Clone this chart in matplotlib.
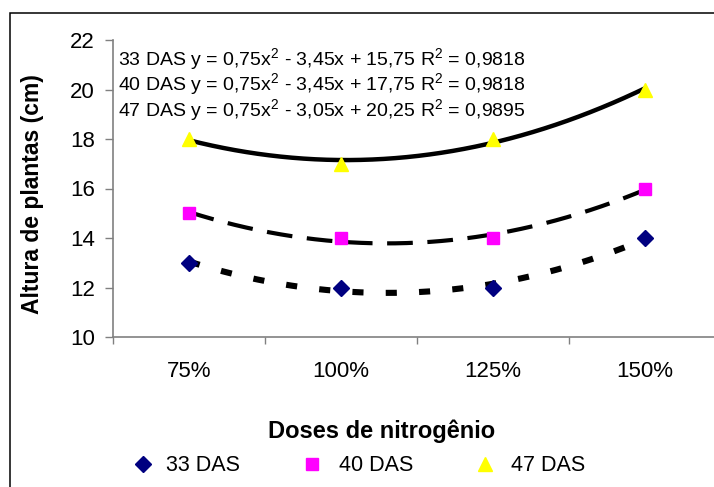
import numpy as np
import matplotlib.pyplot as plt
from matplotlib.patches import Rectangle
from matplotlib.lines import Line2D

plt.rcParams['font.family'] = ['Liberation Sans', 'DejaVu Sans']
plt.rcParams['mathtext.fontset'] = 'custom'
plt.rcParams['mathtext.rm'] = 'Liberation Sans'
plt.rcParams['lines.scale_dashes'] = False

# Data
doses = ["75%", "100%", "125%", "150%"]
das33 = [13, 12, 12, 14]
das40 = [15, 14, 14, 16]
das47 = [18, 17, 18, 20]

# Polynomial trendline coefficients (a, b, c) and R2
coef33 = [0.75, -3.45, 15.75]
coef40 = [0.75, -3.45, 17.75]
coef47 = [0.75, -3.05, 20.25]
r2 = ["0,9818", "0,9818", "0,9895"]

grey = "#808080"
W, H = 714, 487
x = np.arange(1, len(doses) + 1)
xs = np.linspace(1, 4, 200)

fig = plt.figure(figsize=(7.14, 4.87), dpi=100)
ax = fig.add_axes([113 / W, 150 / H, 608 / W, 297 / H])

# outer chart frame
fig.patches.append(Rectangle((10 / W, -0.1), 1.2, 1 - 13 / H + 0.1,
                             transform=fig.transFigure, fill=False,
                             edgecolor="black", linewidth=1.1))

# trendlines
ax.plot(xs, np.polyval(coef47, xs), color="black", lw=3.2, solid_capstyle="butt")
ax.plot(xs, np.polyval(coef40, xs), color="black", lw=3.0, dashes=(18.5, 10.5))
ax.plot(xs, np.polyval(coef33, xs), color="black", lw=4.4, dashes=(8, 16))

# data points
ax.plot(x, das33, "D", color="#000080", ms=8, ls="none", zorder=5)
ax.plot(x, das40, "s", color="#FF00FF", ms=8, ls="none", zorder=5)
ax.plot(x, das47, "^", color="#FFFF00", ms=9.5, ls="none", zorder=5)

ax.set_xlim(0.5, 4.5)
ax.set_ylim(10, 22)
ax.set_yticks(np.arange(10, 23, 2))
ax.set_xticks(x)
ax.set_xticklabels(doses)
ax.set_xticks(np.arange(0.5, 5, 1), minor=True)
ax.tick_params(axis="x", which="major", length=0, pad=17, labelsize=16)
ax.tick_params(axis="x", which="minor", length=5, color=grey, width=1)
ax.tick_params(axis="y", length=6, color=grey, width=1, pad=7, labelsize=16)

for s in ["top", "right"]:
    ax.spines[s].set_visible(False)
for s in ["left", "bottom"]:
    ax.spines[s].set_color(grey)
    ax.spines[s].set_linewidth(1.2)

fig.text(33 / W, 1 - 194 / H, "Altura de plantas (cm)", fontsize=16.5,
         fontweight="bold", rotation=90, ha="center", va="center")
fig.text(382 / W, 1 - 438 / H, "Doses de nitrogênio", fontsize=17,
         fontweight="bold", ha="center", va="baseline")

# trendline equations
labels = ["33 DAS", "40 DAS", "47 DAS"]
for i, (lab, c) in enumerate(zip(labels, [coef33, coef40, coef47])):
    a, b, cc = [f"{abs(v):.2f}".replace(".", ",") for v in c]
    sign_b = "-" if c[1] < 0 else "+"
    txt = f"{lab} y = {a}x$^2$ {sign_b} {b}x + {cc} R$^2$ = {r2[i]}"
    fig.text(118 / W, 1 - (66 + 25.5 * i) / H, txt, fontsize=14,
             ha="left", va="baseline")

# legend, laid out entry by entry
legend_markers = [("D", "#000080", 8), ("s", "#FF00FF", 8), ("^", "#FFFF00", 9.5)]
marker_x = [143, 312, 485]
text_x = [166, 339, 511]
for (m, col, ms), mx, tx, lab in zip(legend_markers, marker_x, text_x, labels):
    fig.add_artist(Line2D([mx / W], [1 - 464 / H], marker=m, color=col, ms=ms,
                          ls="none", transform=fig.transFigure))
    fig.text(tx / W, 1 - 471 / H, lab, fontsize=15.5, ha="left", va="baseline")

fig.savefig("out.png", dpi=100)
